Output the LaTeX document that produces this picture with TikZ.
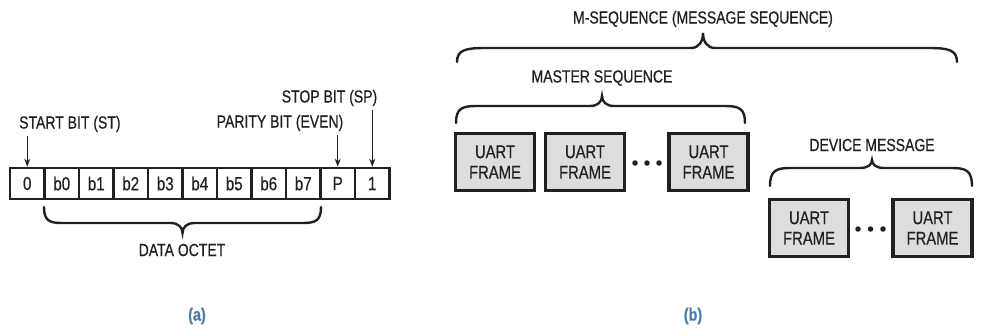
\documentclass[tikz,border=0pt]{standalone}
\usepackage{fontspec}
\setmainfont{Liberation Sans}[FakeStretch=0.8,FakeBold=0.5]
\usetikzlibrary{arrows.meta}
\definecolor{ink}{HTML}{231F20}
\definecolor{boxfill}{HTML}{DDDDDF}
\definecolor{capblue}{HTML}{4A7CA6}
\newcommand\mybrc[7]{% x0 x1 xm yend yline ytip r
  \draw[bracestyle] (#1,#4) .. controls (#1,{#5+(#4-#5)*0.15}) and ({#1+#7*0.3},#5) .. ({#1+#7},#5) -- ({#3-12},#5)
    .. controls ({#3-4},#5) and (#3,{#5+(#6-#5)*0.45}) .. (#3,#6)
    .. controls (#3,{#5+(#6-#5)*0.45}) and ({#3+4},#5) .. ({#3+12},#5)
    -- ({#2-#7},#5) .. controls ({#2-#7*0.3},#5) and (#2,{#5+(#4-#5)*0.15}) .. (#2,#4);}
\begin{document}
\begin{tikzpicture}[x=1pt,y=-1pt,
  bitcell/.style={draw=ink,line width=2.6pt,minimum width=34.5pt,minimum height=31pt,inner sep=0pt,
    font=\fontsize{19}{20}\selectfont,text=ink},
  lbl/.style={font=\fontsize{17.5}{20}\selectfont,text=ink,inner sep=0pt},
  uart/.style={draw=ink,fill=boxfill,line width=3.2pt,minimum width=79pt,minimum height=57pt,inner sep=0pt,
    align=center,font=\fontsize{18.5}{20.5}\selectfont,text=ink},
  dotnode/.style={circle,fill=ink,inner sep=0pt,minimum size=5.5pt},
  arr/.style={draw=ink,line width=1.4pt,-{Stealth[length=8pt,width=6pt]}},
  bracestyle/.style={draw=ink,line width=2.4pt,line cap=round},
  subcap/.style={font=\fontsize{18}{20}\selectfont\bfseries,text=capblue,inner sep=0pt}]
\useasboundingbox (0,0) rectangle (985,333);
% ---- (a) bit frame
\foreach \t [count=\i from 0] in {0,b0,b1,b2,b3,b4,b5,b6,b7,P,1}{
  \node[bitcell] (c\i) at ({10+34.5*(\i+0.5)},183.5) {\t};
}
\node[lbl,anchor=west] (st) at (19,124) {START BIT (ST)};
\node[lbl] (pb) at (280,123) {PARITY BIT (EVEN)};
\node[lbl] (sp) at (329.5,98) {STOP BIT (SP)};
\draw[arr] ([yshift=-4pt]c0.north |- st.south) -- (c0.north);
\draw[arr] ([yshift=-4pt]c9.north |- pb.south) -- (c9.north);
\draw[arr] ([yshift=-4pt]c10.north |- sp.south) -- (c10.north);
\mybrc{44}{321}{182.5}{207}{223}{233}{18}
\node[lbl] (oct) at (182,250) {DATA OCTET};
\node[subcap] (ca) at (197,316) {(a)};
% ---- (b) sequences
\node[lbl] (mseq) at (703,19) {M-SEQUENCE (MESSAGE SEQUENCE)};
\mybrc{457}{957}{703}{62}{48}{33}{28}
\node[lbl] (mast) at (602,78) {MASTER SEQUENCE};
\mybrc{456}{745}{602}{123}{106}{96}{20}
\node[uart] (u1) at (495,162) {UART\\FRAME};
\node[uart] (u2) at (585,162) {UART\\FRAME};
\node[uart] (u3) at (708.5,162) {UART\\FRAME};
\node[dotnode] (d1) at (635,163) {};
\node[dotnode] (d2) at (647,163) {};
\node[dotnode] (d3) at (659,163) {};
\node[lbl] (dev) at (872,145) {DEVICE MESSAGE};
\mybrc{770}{972}{872}{186}{168}{160}{20}
\node[uart] (u4) at (809,228) {UART\\FRAME};
\node[uart] (u5) at (932.5,228) {UART\\FRAME};
\node[dotnode] (d4) at (858,229) {};
\node[dotnode] (d5) at (870.5,229) {};
\node[dotnode] (d6) at (883,229) {};
\node[subcap] (cb) at (693,316) {(b)};
\end{tikzpicture}
\end{document}
